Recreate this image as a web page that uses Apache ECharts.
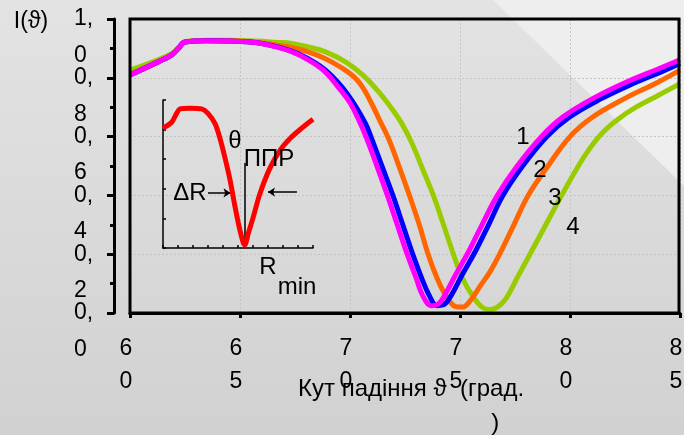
<!DOCTYPE html>
<html style="height: 100%">
   <head>
       <meta charset="utf-8">
   </head>
   <body style="height: 100%; margin: 0">
       <div id="container" style="width: 684px; height: 435px"></div>
       <script type="text/javascript" src="https://cdn.jsdelivr.net/npm/echarts@6/dist/echarts.min.js"></script>
       <script type="text/javascript">
// [angle, I]
var curve1 = [[60,0.81],[61.3,0.855],[61.9,0.878],[62.2,0.9],[62.5,0.922],[63.5,0.926],[64.5,0.925],[65.7,0.92],[66.6,0.906],[67.35,0.889],[68.1,0.861],[68.86,0.821],[69.5,0.765],[70.0,0.715],[70.45,0.648],[70.75,0.595],[71.2,0.505],[71.7,0.4],[72.15,0.3],[72.6,0.2],[73.0,0.12],[73.3,0.06],[73.7,0.025],[74.0,0.03],[74.3,0.06],[74.8,0.13],[75.4,0.21],[76.0,0.3],[76.7,0.4],[77.6,0.5],[78.7,0.6],[79.7,0.668],[81.2,0.736],[82.7,0.79],[84.0,0.83],[85,0.861]];
var curve2 = [[60,0.81],[61.3,0.855],[61.9,0.878],[62.2,0.9],[62.5,0.922],[63.5,0.926],[64.5,0.925],[65.7,0.92],[66.6,0.907],[67.35,0.891],[68.1,0.865],[68.86,0.828],[69.6,0.772],[70.2,0.71],[70.7,0.645],[70.95,0.6],[71.45,0.5],[71.95,0.4],[72.4,0.3],[72.85,0.2],[73.25,0.12],[73.6,0.06],[73.95,0.025],[74.25,0.028],[74.6,0.06],[75.1,0.13],[75.7,0.21],[76.3,0.3],[76.95,0.4],[77.85,0.5],[78.95,0.6],[79.95,0.665],[81.45,0.73],[82.95,0.783],[84.2,0.822],[85,0.849]];
var curve3 = [[60,0.81],[61.3,0.855],[61.9,0.878],[62.2,0.9],[62.5,0.922],[63.5,0.926],[64.5,0.926],[65.7,0.921],[66.6,0.912],[67.35,0.903],[68.1,0.888],[68.86,0.866],[69.6,0.835],[70.23,0.8],[70.6,0.765],[71.0,0.71],[71.35,0.655],[71.74,0.595],[72.2,0.505],[72.7,0.4],[73.15,0.3],[73.55,0.2],[73.95,0.12],[74.35,0.06],[74.8,0.022],[75.1,0.02],[75.45,0.04],[75.9,0.09],[76.36,0.14],[76.8,0.2],[77.45,0.3],[78.1,0.4],[79.0,0.5],[80.0,0.6],[81.0,0.665],[82.5,0.73],[84.0,0.785],[85,0.826]];
var curve4 = [[60,0.826],[61.3,0.862],[61.9,0.883],[62.2,0.903],[62.5,0.923],[63.5,0.928],[64.5,0.928],[65.7,0.925],[66.6,0.921],[67.35,0.917],[68.1,0.905],[68.86,0.889],[69.85,0.852],[70.6,0.808],[71.36,0.747],[71.9,0.695],[72.35,0.645],[72.8,0.58],[73.3,0.49],[73.79,0.4],[74.25,0.3],[74.7,0.2],[75.1,0.12],[75.6,0.055],[76.0,0.02],[76.35,0.012],[76.7,0.02],[77.1,0.05],[77.6,0.12],[78.18,0.2],[78.9,0.3],[79.62,0.4],[80.3,0.49],[80.9,0.56],[81.5,0.615],[82.2,0.66],[83.0,0.7],[84.0,0.74],[85,0.78]];
var curveNames = ['1', '2', '3', '4'];
var curveColors = ['#ff00ff', '#0000ff', '#ff6600', '#99cc00'];

// small inset sketch, arbitrary units
var insetCurve = [[0,0.81],[0.58,0.85],[0.91,0.91],[1.13,0.94],[1.8,0.945],[2.58,0.94],[3.0,0.91],[3.47,0.84],[3.8,0.74],[4.13,0.61],[4.47,0.46],[4.8,0.28],[5.13,0.12],[5.45,0.02],[5.69,0.1],[6.02,0.21],[6.47,0.37],[7.13,0.54],[7.8,0.66],[8.47,0.74],[9.25,0.81],[10,0.87]];

var FONT = '"Liberation Sans", Arial, sans-serif';

var dom = document.getElementById("container");
var myChart = echarts.init(dom);
var option = null;

function lineSeries(data, i) {
    return {
        type: 'line',
        name: curveNames[i],
        data: data,
        xAxisIndex: 0,
        yAxisIndex: 0,
        showSymbol: false,
        smooth: 0.4,
        z: 10 - i,
        lineStyle: { color: curveColors[i], width: 5 },
        itemStyle: { color: curveColors[i] }
    };
}

function txt(x, y, s, size) {
    return {
        type: 'text', x: x, y: y, z: 50,
        style: { text: s, font: size + 'px ' + FONT, fill: '#000', align: 'center', verticalAlign: 'middle' }
    };
}

// y tick labels are wrapped over two lines in the original ("0," / "8")
function yLabel(v) { return v.toFixed(1).replace('.', ','); }

var frameLine = { show: true, lineStyle: { color: '#000', width: 3 } };
var arrowStyle = { color: '#000', width: 1.5, type: 'solid' };

var seriesList = [
    lineSeries(curve4, 3),
    lineSeries(curve3, 2),
    lineSeries(curve2, 1),
    lineSeries(curve1, 0)
];

seriesList.push({
    type: 'line',
    data: insetCurve,
    xAxisIndex: 1,
    yAxisIndex: 1,
    showSymbol: false,
    smooth: 0.3,
    z: 12,
    lineStyle: { color: '#ff0000', width: 5 },
    markLine: {
        silent: true,
        symbol: ['none', 'arrow'],
        symbolSize: 7,
        label: { show: false },
        lineStyle: arrowStyle,
        data: [
            [{ coord: [5.47, 0.574] }, { coord: [5.47, 0.02] }],
            [{ coord: [3.0, 0.372] }, { coord: [4.5, 0.372] }],
            [{ coord: [8.93, 0.378] }, { coord: [7.0, 0.378] }]
        ]
    }
});

option = {
    animation: false,
    backgroundColor: {
        type: 'linear', x: 0, y: 0, x2: 0, y2: 1,
        colorStops: [{ offset: 0, color: '#e3e3e3' }, { offset: 1, color: '#d1d1d1' }]
    },
    textStyle: { fontFamily: FONT },
    graphic: [
        { type: 'polygon', z: -10, silent: true, shape: { points: [[493, 0], [684, 0], [684, 186]] }, style: { fill: '#eeeeee' } },
        // plot frame
        { type: 'rect', z: 30, silent: true, shape: { x: 130, y: 19, width: 549, height: 294 }, style: { fill: 'none', stroke: '#000', lineWidth: 3 } },
        txt(31, 22, 'I(ϑ)', 23),
        txt(523, 137, '1', 24),
        txt(540, 170, '2', 24),
        txt(555, 198, '3', 24),
        txt(573, 227, '4', 24),
        txt(235, 141, 'θ', 24),
        txt(269, 159, 'ППР', 24),
        txt(190, 193, 'ΔR', 24),
        txt(268, 267, 'R', 24),
        txt(297, 287, 'min', 24),
        {
            type: 'text', x: 298, y: 372, z: 50,
            style: { text: 'Кут падіння ϑ  (град.\n' + '                             )', font: '24px ' + FONT, fill: '#000', align: 'left', verticalAlign: 'top', lineHeight: 34 }
        }
    ],
    grid: [
        { left: 130, right: 4, top: 19, bottom: 122, outerBoundsMode: 'none', show: false },
        { left: 163, top: 100, width: 150, height: 148, outerBoundsMode: 'none' }
    ],
    xAxis: [
        {
            type: 'value', gridIndex: 0, position: 'bottom', min: 60, max: 85, interval: 5, offset: 10,
            axisLine: frameLine,
            axisTick: { show: true, length: 5, lineStyle: { color: '#000', width: 3 } },
            minorTick: { show: true, splitNumber: 2, length: 2, lineStyle: { color: '#000', width: 3 } },
            axisLabel: {
                color: '#000', fontSize: 23, fontFamily: FONT, lineHeight: 33, margin: 9, padding: [0, 8, 0, 0],
                showMinLabel: true, showMaxLabel: true,
                formatter: function (v) { return String(v).split('').join('\n'); }
            },
            splitLine: { show: true, lineStyle: { color: '#c4c4c4', type: [2, 2], width: 1 } }
        },
        {
            type: 'value', gridIndex: 1, min: 0, max: 10, interval: 1,
            axisLine: { show: true, lineStyle: { color: '#000', width: 1.5 } },
            axisTick: { show: true, inside: true, length: 3, lineStyle: { color: '#000', width: 1.5 } },
            axisLabel: { show: false },
            splitLine: { show: false }
        }
    ],
    yAxis: [
        {
            type: 'value', gridIndex: 0, position: 'left', min: 0, max: 1, interval: 0.2, offset: 16,
            axisLine: frameLine,
            axisTick: { show: true, length: 7, lineStyle: { color: '#000', width: 3 } },
            minorTick: { show: true, splitNumber: 2, length: 4, lineStyle: { color: '#000', width: 3 } },
            axisLabel: {
                color: '#000', fontSize: 23, fontFamily: FONT, lineHeight: 23, margin: 40, align: 'left',
                verticalAlign: 'middle', padding: [6, 0, 0, 0],
                showMinLabel: true, showMaxLabel: true,
                formatter: function (v) { return yLabel(v).slice(0, 2); }
            },
            splitLine: { show: true, lineStyle: { color: '#c4c4c4', type: [2, 2], width: 1 } }
        },
        {
            type: 'value', gridIndex: 1, min: 0, max: 1, interval: 0.2,
            axisLine: { show: true, lineStyle: { color: '#000', width: 1.5 } },
            axisTick: { show: true, inside: true, length: 3, lineStyle: { color: '#000', width: 1.5 } },
            axisLabel: { show: false },
            splitLine: { show: false }
        },
        {
            // second line of the wrapped tick labels
            type: 'value', gridIndex: 0, position: 'left', min: 0, max: 1, interval: 0.2, offset: 16,
            axisLine: { show: false }, axisTick: { show: false }, splitLine: { show: false },
            axisLabel: {
                color: '#000', fontSize: 23, fontFamily: FONT, lineHeight: 23, margin: 40, align: 'left',
                verticalAlign: 'top', padding: [25, 0, 0, 0],
                showMinLabel: true, showMaxLabel: true,
                formatter: function (v) { return yLabel(v).slice(2); }
            }
        }
    ],
    series: seriesList
};

if (option && typeof option === "object") {
    myChart.setOption(option, true);
}
       </script>
   </body>
</html>
